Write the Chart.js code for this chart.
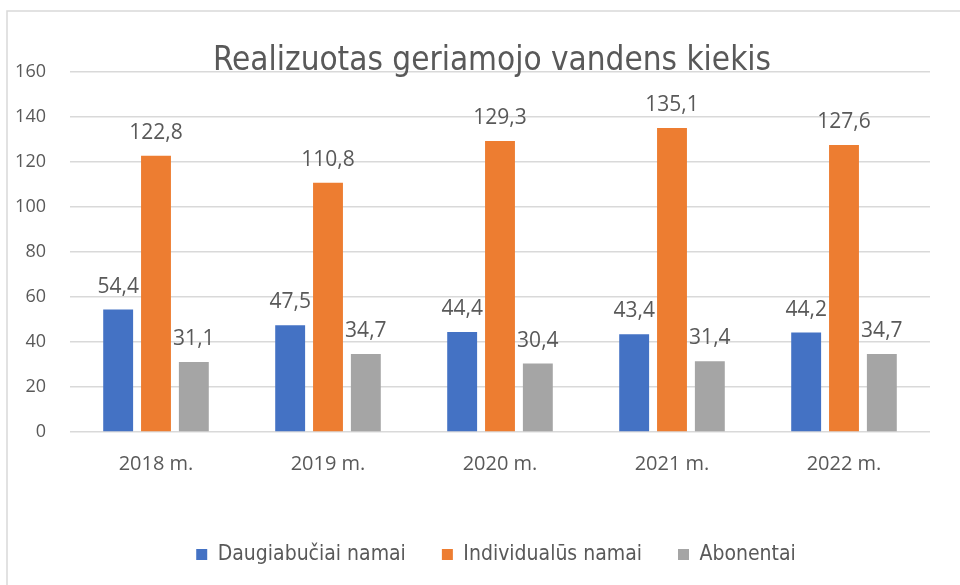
<!DOCTYPE html>
<html lang="lt">
<head>
<meta charset="utf-8">
<title>Realizuotas geriamojo vandens kiekis</title>
<script src="https://cdn.jsdelivr.net/npm/chart.js@4/dist/chart.umd.min.js"></script>
<style>
  html, body { margin: 0; padding: 0; background: #fff; }
  #wrap { width: 960px; height: 585px; }
</style>
</head>
<body>
<div id="wrap"><canvas id="chart" width="960" height="585"></canvas></div>
<script>
// duomenys
const categories = ["2018 m.", "2019 m.", "2020 m.", "2021 m.", "2022 m."];
const seriesNames = ["Daugiabučiai namai", "Individualūs namai", "Abonentai"];
const daugiabuciai = [54.4, 47.5, 44.4, 43.4, 44.2];
const individualus = [122.8, 110.8, 129.3, 135.1, 127.6];
const abonentai = [31.1, 34.7, 30.4, 31.4, 34.7];
const yMin = 0;
const yMax = 160;
const yStep = 20;

const chartTitle = "Realizuotas geriamojo vandens kiekis";
const textColor = "#595959";
const gridColor = "#d9d9d9";
const numFont = "'Open Sans', 'DejaVu Sans', sans-serif";
const narrowFont = "'Liberation Sans Narrow', 'DejaVu Sans Condensed', 'Roboto', sans-serif";

// remelis aplink diagrama
const framePlugin = {
  id: "frame",
  beforeDraw(chart) {
    const ctx = chart.ctx;
    ctx.save();
    ctx.strokeStyle = gridColor;
    ctx.lineWidth = 1.5;
    ctx.strokeRect(7, 11, 1000, 700);
    ctx.restore();
  },
};

// legenda originale centruota pagal brezinio plota, ne pagal visa drobe
const legendShift = {
  id: "legendShift",
  afterLayout(chart) {
    if (!chart.legend) return;
    chart.legend.left += 31;
    chart.legend.right += 31;
  },
};

// pavadinimas (uzeina ant virsutines linijos, todel piesiam patys)
const titlePlugin = {
  id: "ownTitle",
  afterDraw(chart) {
    const ctx = chart.ctx;
    ctx.save();
    ctx.font = "33px " + narrowFont;
    ctx.fillStyle = textColor;
    ctx.textAlign = "center";
    ctx.textBaseline = "alphabetic";
    ctx.fillText(chartTitle, 492, 70);
    ctx.restore();
  },
};

// reiksmes virs stulpeliu
const labelPlugin = {
  id: "barLabels",
  afterDatasetsDraw(chart) {
    const ctx = chart.ctx;
    ctx.save();
    ctx.font = "21px " + numFont;
    ctx.fillStyle = textColor;
    ctx.textAlign = "center";
    ctx.textBaseline = "alphabetic";
    chart.data.datasets.forEach((ds, i) => {
      chart.getDatasetMeta(i).data.forEach((bar, j) => {
        const txt = ds.data[j].toFixed(1).replace(".", ",");
        ctx.fillText(txt, bar.x, bar.y - 17);
      });
    });
    ctx.restore();
  },
};

new Chart(document.getElementById("chart"), {
  type: "bar",
  data: {
    labels: categories,
    datasets: [
      { label: seriesNames[0], data: daugiabuciai, backgroundColor: "#4472c4" },
      { label: seriesNames[1], data: individualus, backgroundColor: "#ed7d31" },
      { label: seriesNames[2], data: abonentai, backgroundColor: "#a5a5a5" },
    ],
  },
  options: {
    responsive: false,
    animation: false,
    devicePixelRatio: 1,
    categoryPercentage: 0.66,
    barPercentage: 0.79,
    layout: { padding: { top: 72, right: 30, bottom: 10, left: 0 } },
    plugins: {
      title: { display: false },
      tooltip: { enabled: false },
      legend: {
        position: "bottom",
        labels: {
          boxWidth: 11,
          boxHeight: 11,
          padding: 36,
          color: textColor,
          font: { family: narrowFont, size: 21 },
        },
      },
    },
    scales: {
      x: {
        grid: { display: false },
        border: { display: false },
        ticks: { color: textColor, font: { family: numFont, size: 20 }, padding: 12 },
        afterFit(scale) { scale.height = 76; },
      },
      y: {
        min: yMin,
        max: yMax,
        grid: { color: gridColor, lineWidth: 1.5, drawTicks: false },
        border: { display: false },
        ticks: { stepSize: yStep, color: textColor, font: { family: numFont, size: 18 }, padding: 24 },
        afterFit(scale) { scale.width = 70; },
      },
    },
  },
  plugins: [framePlugin, legendShift, titlePlugin, labelPlugin],
});
</script>
</body>
</html>
